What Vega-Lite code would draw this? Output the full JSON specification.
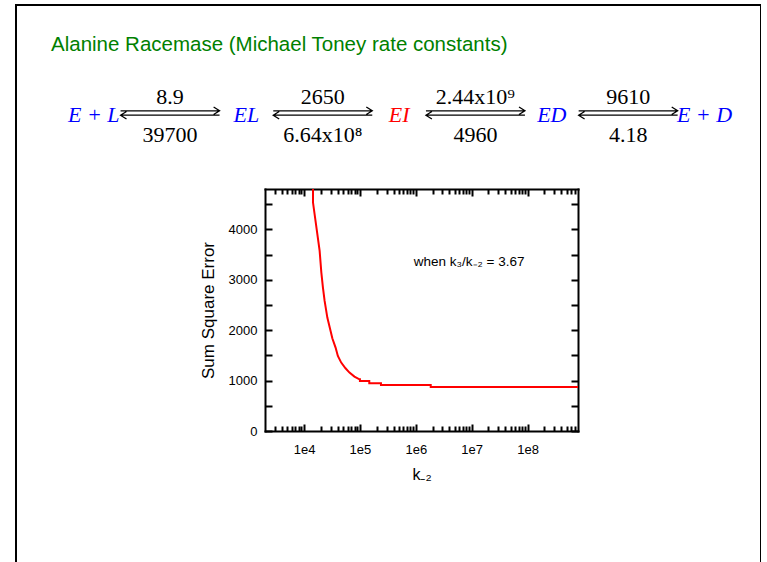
{
  "$schema": "https://vega.github.io/schema/vega-lite/v6.json",
  "background": "white",
  "padding": {"left": 16, "top": 5, "right": 0, "bottom": 0},
  "width": 745,
  "height": 570,
  "title": {
    "text": "Alanine Racemase (Michael Toney rate constants)",
    "anchor": "start",
    "frame": "group",
    "orient": "top",
    "offset": -66,
    "dx": 35,
    "baseline": "alphabetic",
    "font": "Liberation Sans",
    "fontSize": 20.5,
    "fontWeight": "normal",
    "color": "#008000"
  },
  "datasets": {
    "species": [
      {"slot": 0, "name": "E + L", "state": "free"},
      {"slot": 2, "name": "EL", "state": "complex"},
      {"slot": 4, "name": "EI", "state": "intermediate"},
      {"slot": 6, "name": "ED", "state": "complex"},
      {"slot": 8, "name": "E + D", "state": "free"}
    ],
    "steps": [
      {"slot": 1, "forward": "8.9", "reverse": "39700"},
      {"slot": 3, "forward": "2650", "reverse": "6.64x10⁸"},
      {"slot": 5, "forward": "2.44x10⁹", "reverse": "4960"},
      {"slot": 7, "forward": "9610", "reverse": "4.18"}
    ],
    "curve": [
      {"k": 14460, "sse": 4800},
      {"k": 14460, "sse": 4532},
      {"k": 19010, "sse": 3571},
      {"k": 20400, "sse": 3143},
      {"k": 21780, "sse": 2845},
      {"k": 23340, "sse": 2579},
      {"k": 26100, "sse": 2250},
      {"k": 29850, "sse": 1984},
      {"k": 32060, "sse": 1839},
      {"k": 36660, "sse": 1655},
      {"k": 40270, "sse": 1488},
      {"k": 46240, "sse": 1357},
      {"k": 55200, "sse": 1244},
      {"k": 65000, "sse": 1159},
      {"k": 79800, "sse": 1079},
      {"k": 97950, "sse": 1026},
      {"k": 100000, "sse": 1026},
      {"k": 100000, "sse": 992},
      {"k": 147000, "sse": 992},
      {"k": 147000, "sse": 946},
      {"k": 238000, "sse": 946},
      {"k": 238000, "sse": 913},
      {"k": 1850000, "sse": 913},
      {"k": 1850000, "sse": 873},
      {"k": 800000000, "sse": 873}
    ],
    "note": [
      {"text": "when k₃/k₋₂ = 3.67", "k": 9000000, "sse": 3350}
    ]
  },
  "resolve": {
    "scale": {"x": "independent", "y": "independent"},
    "axis": {"x": "independent", "y": "independent"}
  },
  "layer": [
    {
      "encoding": {
        "x": {
          "field": "slot",
          "type": "ordinal",
          "scale": {"type": "point", "domain": [0, 1, 2, 3, 4, 5, 6, 7, 8], "padding": 0.879, "align": 0.579},
          "axis": null
        },
        "y": {
          "datum": "scheme",
          "type": "nominal",
          "scale": {"type": "point", "domain": ["scheme"], "range": [0, 216]},
          "axis": null
        }
      },
      "layer": [
        {
          "data": {"name": "species"},
          "mark": {"type": "text", "font": "Liberation Serif", "fontStyle": "italic", "fontSize": 22, "baseline": "alphabetic", "dy": 9},
          "encoding": {
            "text": {"field": "name"},
            "color": {
              "field": "state",
              "type": "nominal",
              "scale": {"domain": ["free", "complex", "intermediate"], "range": ["#0000ff", "#0000ff", "#ff0000"]},
              "legend": null
            }
          }
        },
        {
          "data": {"name": "steps"},
          "mark": {
            "type": "point",
            "shape": "M-1,-0.044L1,-0.044M0.88,-0.12L1,-0.044L0.88,0.03M1,0.044L-1,0.044M-0.88,-0.03L-1,0.044L-0.88,0.12",
            "size": 9800,
            "filled": false,
            "color": "black",
            "strokeWidth": 1.3,
            "opacity": 1
          }
        },
        {
          "data": {"name": "steps"},
          "mark": {"type": "text", "font": "Liberation Serif", "fontSize": 22, "baseline": "alphabetic", "dy": -9, "color": "black"},
          "encoding": {"text": {"field": "forward"}}
        },
        {
          "data": {"name": "steps"},
          "mark": {"type": "text", "font": "Liberation Serif", "fontSize": 22, "baseline": "alphabetic", "dy": 29, "color": "black"},
          "encoding": {"text": {"field": "reverse"}}
        }
      ]
    },
    {
      "resolve": {"axis": {"x": "independent", "y": "independent"}},
      "layer": [
        {
          "data": {"name": "curve"},
          "mark": {"type": "line", "color": "#ff0000", "strokeWidth": 2},
          "encoding": {
            "x": {
              "field": "k",
              "type": "quantitative",
              "scale": {"type": "log", "domain": [2000, 800000000], "range": [249, 562], "nice": false},
              "axis": {
                "orient": "bottom",
                "offset": -144,
                "values": [3000,4000,5000,6000,7000,8000,9000,10000,20000,30000,40000,50000,60000,70000,80000,90000,100000,200000,300000,400000,500000,600000,700000,800000,900000,1000000,2000000,3000000,4000000,5000000,6000000,7000000,8000000,9000000,10000000,20000000,30000000,40000000,50000000,60000000,70000000,80000000,90000000,100000000,200000000,300000000,400000000,500000000,600000000,700000000],
                "labelExpr": "abs(log(datum.value)/LN10 - round(log(datum.value)/LN10)) < 0.001 ? '1e' + round(log(datum.value)/LN10) : ''",
                "labelOverlap": false,
                "labelFlush": false,
                "tickSize": {"condition": {"test": "abs(log(datum.value)/LN10 - round(log(datum.value)/LN10)) < 0.001", "value": -7}, "value": -5},
                "labelPadding": 19,
                "labelFontSize": 13,
                "title": "k₋₂",
                "titleFontSize": 16,
                "titlePadding": 8
              }
            },
            "y": {
              "field": "sse",
              "type": "quantitative",
              "scale": {"domain": [0, 4800], "range": [426, 184], "nice": false},
              "axis": {
                "orient": "left",
                "offset": -249,
                "values": [0, 500, 1000, 1500, 2000, 2500, 3000, 3500, 4000, 4500],
                "format": "d",
                "labelExpr": "datum.value % 1000 === 0 ? datum.label : ''",
                "labelOverlap": false,
                "labelFlush": false,
                "tickSize": -7,
                "labelPadding": 15,
                "labelFontSize": 13,
                "title": "Sum Square Error",
                "titleFontSize": 17,
                "titlePadding": 11
              }
            }
          }
        },
        {
          "data": {"name": "note"},
          "mark": {"type": "text", "font": "Liberation Sans", "fontSize": 13.5, "baseline": "middle", "align": "center", "color": "black"},
          "encoding": {
            "x": {
              "field": "k",
              "type": "quantitative",
              "axis": {
                "orient": "top",
                "offset": -184,
                "values": [3000,4000,5000,6000,7000,8000,9000,10000,20000,30000,40000,50000,60000,70000,80000,90000,100000,200000,300000,400000,500000,600000,700000,800000,900000,1000000,2000000,3000000,4000000,5000000,6000000,7000000,8000000,9000000,10000000,20000000,30000000,40000000,50000000,60000000,70000000,80000000,90000000,100000000,200000000,300000000,400000000,500000000,600000000,700000000],
                "labels": false,
                "tickSize": {"condition": {"test": "abs(log(datum.value)/LN10 - round(log(datum.value)/LN10)) < 0.001", "value": -7}, "value": -5},
                "title": null
              }
            },
            "y": {
              "field": "sse",
              "type": "quantitative",
              "axis": {
                "orient": "right",
                "offset": -183,
                "values": [0, 500, 1000, 1500, 2000, 2500, 3000, 3500, 4000, 4500],
                "labels": false,
                "tickSize": -7,
                "title": null
              }
            },
            "text": {"field": "text"}
          }
        }
      ]
    }
  ],
  "config": {
    "font": "Liberation Sans",
    "view": {"stroke": "black", "strokeWidth": 2},
    "axis": {
      "grid": false,
      "domain": true,
      "domainColor": "black",
      "domainWidth": 2,
      "domainCap": "square",
      "tickColor": "black",
      "tickWidth": 2,
      "labelColor": "black",
      "titleColor": "black",
      "labelFont": "Liberation Sans",
      "titleFont": "Liberation Sans",
      "titleFontWeight": "normal"
    }
  }
}
